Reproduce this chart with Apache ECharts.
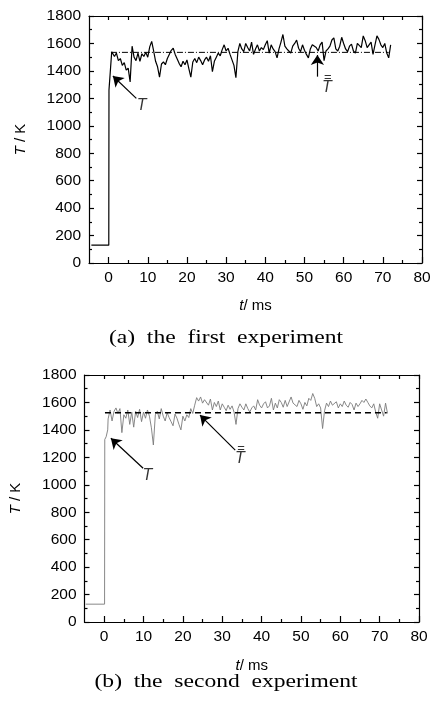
<!DOCTYPE html>
<html><head><meta charset="utf-8">
<script src="https://cdn.jsdelivr.net/npm/echarts@6/dist/echarts.min.js"></script>
<style>html,body{margin:0;padding:0;background:#fff}#c{width:430px;height:709px}</style>
</head><body><div id="c"></div>
<script>
// ---- tick labels ----
const xMajorTicks = [0, 10, 20, 30, 40, 50, 60, 70, 80];
const xMinorTicks = [5, 15, 25, 35, 45, 55, 65, 75];
const yRange = [0, 1800];

// ---- experiment (a): lead-in points (t in ms, T in K) ----
const expATimeLead = [-4.4, 0.05, 0.1, 0.5, 0.8];
const expATempLead = [130, 130, 1260, 1420, 1540];
// sampled part, every 0.5 ms from t = 1.0 ms
const expASampleStart = 1.0;
const expASampleStep = 0.5;
const expATemp = [
  1545,1505,1530,1475,1490,1440,1460,1405,1420,1320,
  1580,1500,1475,1530,1470,1525,1505,1535,1500,1575,
  1615,1545,1470,1430,1355,1450,1465,1445,1490,1500,
  1550,1565,1520,1510,1455,1430,1470,1445,1480,1415,
  1355,1465,1490,1460,1500,1475,1445,1480,1500,1470,
  1510,1395,1470,1500,1530,1510,1555,1590,1545,1565,
  1520,1480,1440,1350,1540,1600,1560,1540,1600,1570,
  1545,1610,1520,1560,1590,1545,1570,1555,1590,1620,
  1530,1590,1560,1540,1495,1560,1610,1665,1580,1560,
  1545,1530,1580,1600,1625,1565,1540,1590,1550,1520,
  1495,1560,1590,1595,1570,1545,1590,1610,1475,1545,
  1560,1580,1625,1640,1560,1545,1580,1645,1600,1560,
  1540,1580,1595,1545,1530,1600,1610,1570,1655,1620,
  1570,1590,1610,1520,1590,1655,1630,1590,1570,1600,
  1530,1495,1590
];
const expAMean = 1535;
const expAMeanSpan = [0.6, 71.5];

// ---- experiment (b) ----
const expBTimeLead = [-4.7, 0.1, 0.15, 0.5, 0.9];
const expBTempLead = [130, 130, 1330, 1350, 1400];
const expBSampleStart = 1.0;
const expBSampleStep = 0.5;
const expBTemp = [
  1480,1545,1465,1535,1560,1520,1555,1380,1510,1485,
  1545,1440,1530,1420,1535,1490,1550,1460,1530,1485,
  1545,1500,1415,1290,1510,1535,1480,1555,1500,1465,
  1525,1490,1460,1430,1515,1485,1440,1400,1500,1465,
  1510,1490,1555,1520,1580,1635,1610,1640,1595,1620,
  1625,1580,1625,1545,1600,1570,1610,1545,1590,1565,
  1540,1580,1550,1575,1530,1440,1555,1590,1565,1545,
  1590,1555,1530,1560,1575,1545,1620,1580,1560,1590,
  1605,1560,1575,1630,1545,1595,1560,1620,1600,1565,
  1615,1570,1560,1640,1595,1590,1570,1615,1590,1550,
  1600,1575,1630,1615,1665,1630,1570,1590,1560,1410,
  1540,1595,1570,1610,1580,1570,1605,1560,1590,1570,
  1610,1580,1565,1600,1585,1545,1595,1570,1590,1615,
  1600,1625,1600,1575,1560,1590,1530,1485,1590,1545,
  1500,1595,1520
];
const expBMean = 1525;
const expBMeanSpan = [0.2, 71.8];

// ---- annotations (data coordinates) ----
const annotA = [
  { label: 'T', at: [8.44, 1151], from: [7.08, 1200], to: [1.1, 1363] },
  { label: 'Tbar', at: [55.7, 1297], from: [53.3, 1358], to: [53.3, 1516] }
];
const annotB = [
  { label: 'T', at: [11.0, 1064], from: [9.9, 1120], to: [1.7, 1339] },
  { label: 'Tbar', at: [34.5, 1210], from: [33.3, 1253], to: [24.35, 1508] }
];

function buildSeries(timeLead, tempLead, start, step, temps) {
  const pts = timeLead.map((t, i) => [t, tempLead[i]]);
  temps.forEach((v, i) => pts.push([start + i * step, v]));
  return pts;
}
const seriesA = buildSeries(expATimeLead, expATempLead, expASampleStart, expASampleStep, expATemp);
const seriesB = buildSeries(expBTimeLead, expBTempLead, expBSampleStart, expBSampleStep, expBTemp);

const FONT = 'Liberation Sans';
const axisLineStyle = { color: '#000', width: 1.2 };

function xAxesFor(gi, nameGap) {
  return [
    { gridIndex: gi, type: 'value', position: 'bottom', min: -5, max: 80,
      axisLine: { show: true, onZero: false, lineStyle: axisLineStyle },
      axisTick: { show: true, inside: true, length: 6, customValues: xMajorTicks, lineStyle: { color: '#000', width: 1.2 } },
      axisLabel: { show: true, customValues: xMajorTicks, color: '#000', fontFamily: FONT, fontSize: 15.5, margin: 7,
        formatter: v => String(v) },
      splitLine: { show: false },
      name: '{i|t}/ ms', nameLocation: 'middle', nameGap: nameGap,
      nameTextStyle: { color: '#000', fontFamily: FONT, fontSize: 15,
        rich: { i: { fontStyle: 'italic', fontFamily: FONT, fontSize: 15, color: '#000' } } } },
    { gridIndex: gi, type: 'value', position: 'bottom', min: -5, max: 80,
      axisLine: { show: false, onZero: false },
      axisTick: { show: true, inside: true, length: 3, customValues: xMinorTicks, lineStyle: { color: '#000', width: 1.2 } },
      axisLabel: { show: false }, splitLine: { show: false } },
    { gridIndex: gi, type: 'value', position: 'top', min: -5, max: 80,
      axisLine: { show: true, onZero: false, lineStyle: axisLineStyle },
      axisTick: { show: true, inside: true, length: 4, customValues: xMajorTicks.concat(xMinorTicks), lineStyle: { color: '#000', width: 1.2 } },
      axisLabel: { show: false }, splitLine: { show: false } }
  ];
}
function yAxesFor(gi) {
  return [
    { gridIndex: gi, type: 'value', position: 'left', min: yRange[0], max: yRange[1], interval: 200,
      axisLine: { show: true, onZero: false, lineStyle: axisLineStyle },
      axisTick: { show: true, inside: true, length: 5, lineStyle: { color: '#000', width: 1.2 } },
      minorTick: { show: true, splitNumber: 2, length: 3, lineStyle: { color: '#000', width: 1.2 } },
      axisLabel: { color: '#000', fontFamily: FONT, fontSize: 15.5, margin: 8, formatter: v => String(v) },
      splitLine: { show: false }, minorSplitLine: { show: false },
      name: '{i|T} / K', nameLocation: 'middle', nameGap: 61, nameRotate: 90,
      nameTextStyle: { color: '#000', fontFamily: FONT, fontSize: 15,
        rich: { i: { fontStyle: 'italic', fontFamily: FONT, fontSize: 15, color: '#000' } } } },
    { gridIndex: gi, type: 'value', position: 'right', min: yRange[0], max: yRange[1], interval: 200,
      axisLine: { show: true, onZero: false, lineStyle: axisLineStyle },
      axisTick: { show: true, inside: true, length: 5, lineStyle: { color: '#000', width: 1.2 } },
      minorTick: { show: true, splitNumber: 2, length: 3, lineStyle: { color: '#000', width: 1.2 } },
      axisLabel: { show: false }, splitLine: { show: false }, minorSplitLine: { show: false } }
  ];
}

function annotSeries(list, xi, yi) {
  return [
    { type: 'line', xAxisIndex: xi, yAxisIndex: yi, data: [], silent: true,
      markLine: { silent: true, animation: false, symbol: ['none', 'arrow'], symbolSize: 10,
        lineStyle: { color: '#000', width: 1.2, type: 'solid' }, itemStyle: { color: '#000' }, label: { show: false },
        data: list.map(a => [{ coord: a.from }, { coord: a.to }]) } },
    { type: 'scatter', xAxisIndex: xi, yAxisIndex: yi, symbolSize: 0, silent: true,
      data: list.map(a => ({ value: a.at, name: a.label })),
      label: { show: true, position: 'inside',
        formatter: p => p.name === 'Tbar' ? '{b|=}\n{t|T}' : '{t|T}',
        rich: {
          t: { fontFamily: FONT, fontStyle: 'italic', fontSize: 16, color: '#000', lineHeight: 15 },
          b: { fontFamily: FONT, fontSize: 13, color: '#000', lineHeight: 6, padding: [0, 0, 0, 2] }
        } } }
  ];
}

const option = {
  animation: false,
  backgroundColor: '#fff',
  grid: [
    { left: 89, top: 16, width: 333, height: 247, outerBoundsMode: 'none', containLabel: false },
    { left: 84.5, top: 375, width: 334.5, height: 247, outerBoundsMode: 'none', containLabel: false }
  ],
  xAxis: xAxesFor(0, 35).concat(xAxesFor(1, 36)),
  yAxis: yAxesFor(0).concat(yAxesFor(1)),
  series: [
    { type: 'line', xAxisIndex: 0, yAxisIndex: 0, data: seriesA, showSymbol: false, symbol: 'none',
      lineStyle: { color: '#000', width: 1.2 }, z: 3 },
    { type: 'line', xAxisIndex: 0, yAxisIndex: 0, data: [[expAMeanSpan[0], expAMean], [expAMeanSpan[1], expAMean]],
      showSymbol: false, symbol: 'none', lineStyle: { color: '#000', width: 1, type: [6, 2, 1, 2] }, z: 4 },
    { type: 'line', xAxisIndex: 3, yAxisIndex: 2, data: seriesB, showSymbol: false, symbol: 'none',
      lineStyle: { color: '#7a7a7a', width: 0.9 }, z: 3 },
    { type: 'line', xAxisIndex: 3, yAxisIndex: 2, data: [[expBMeanSpan[0], expBMean], [expBMeanSpan[1], expBMean]],
      showSymbol: false, symbol: 'none', lineStyle: { color: '#000', width: 1.6, type: [6, 4] }, z: 4 }
  ].concat(annotSeries(annotA, 0, 0)).concat(annotSeries(annotB, 3, 2)),
  graphic: [
    { type: 'text', x: 226, y: 338, scaleX: 1.24, style: { text: '(a)  the  first  experiment', font: '19px "Liberation Serif"', fill: '#000', textAlign: 'center', textVerticalAlign: 'middle' } },
    { type: 'text', x: 226, y: 682, scaleX: 1.24, style: { text: '(b)  the  second  experiment', font: '19px "Liberation Serif"', fill: '#000', textAlign: 'center', textVerticalAlign: 'middle' } }
  ]
};
const chart = echarts.init(document.getElementById('c'), null, { renderer: 'canvas' });
chart.setOption(option);
</script>
</body></html>
